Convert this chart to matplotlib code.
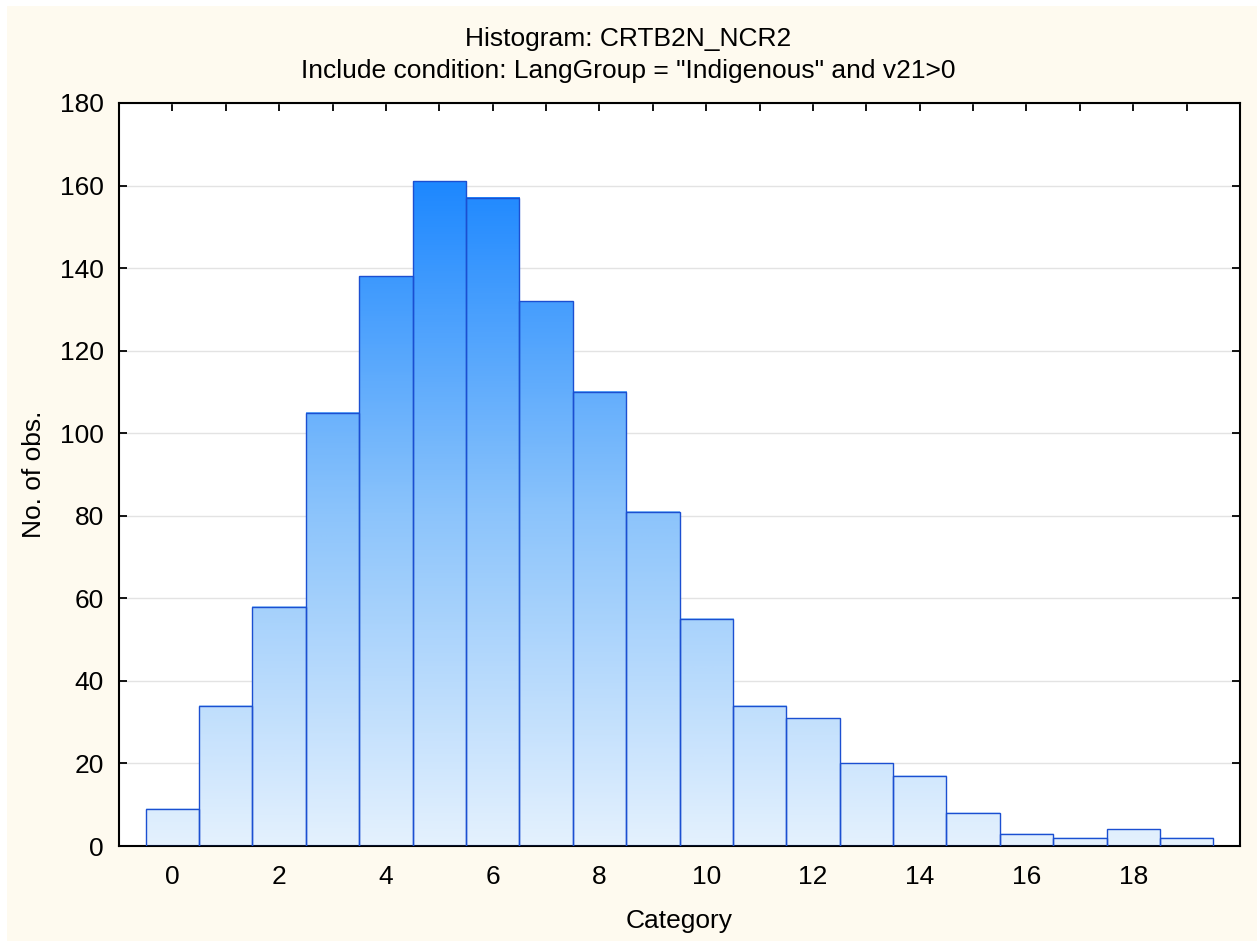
import numpy as np
import matplotlib.pyplot as plt
from matplotlib.colors import LinearSegmentedColormap
from matplotlib.patches import Rectangle

# histogram counts per category
categories = list(range(20))
counts = [9, 34, 58, 105, 138, 161, 157, 132, 110, 81, 55, 34, 31, 20, 17, 8, 3, 2, 4, 2]

plt.rcParams['font.family'] = ['Liberation Sans', 'DejaVu Sans']

fig = plt.figure(figsize=(12.57, 9.41), dpi=100, facecolor='white')
# cream panel behind everything (small white strip top/left)
fig.patches.append(Rectangle((7 / 1257, 0), 1, 1 - 6 / 941, transform=fig.transFigure,
                             facecolor='#fefaef', edgecolor='none', zorder=-10))
ax = fig.add_axes([119 / 1257, 95 / 941, 1121 / 1257, 743 / 941])
ax.set_facecolor('white')

cmap = LinearSegmentedColormap.from_list('blues', ['#e4f1fe', '#8cc4fb', '#1e88ff'])
top = max(counts)
for c, h in zip(categories, counts):
    grad = np.linspace(0, h / top, 200).reshape(-1, 1)
    ax.imshow(grad, extent=(c - 0.5, c + 0.5, 0, h), origin='lower', cmap=cmap,
              vmin=0, vmax=1, aspect='auto', zorder=2, interpolation='bilinear')
ax.bar(categories, counts, width=1.0, facecolor='none', edgecolor='#1b4fd1',
       linewidth=1.0, zorder=3)

ax.set_xlim(-1, 20)
ax.set_ylim(0, 180)
ax.set_xticks(range(0, 20, 2))
ax.set_xticks(range(-1, 21), minor=True)
ax.set_yticks(range(0, 181, 20))
ax.yaxis.grid(True, color='#e3e3e3', linewidth=1.0, zorder=0)
ax.set_axisbelow(True)
ax.tick_params(which='both', direction='in', top=True, right=True, labelsize=19,
               width=1.3, length=6)
ax.tick_params(axis='x', pad=14)
ax.tick_params(axis='y', pad=11)
for s in ax.spines.values():
    s.set_linewidth(1.5)

ax.set_xlabel('Category', fontsize=19, labelpad=14)
ax.set_ylabel('No. of obs.', fontsize=19, labelpad=10)
fig.text(0.5, 1 - 39 / 941, 'Histogram: CRTB2N_NCR2', ha='center', va='center', fontsize=19)
fig.text(0.5, 1 - 71 / 941, 'Include condition: LangGroup = "Indigenous" and v21>0',
         ha='center', va='center', fontsize=19)

fig.savefig('out.png', dpi=100, facecolor=fig.get_facecolor())
